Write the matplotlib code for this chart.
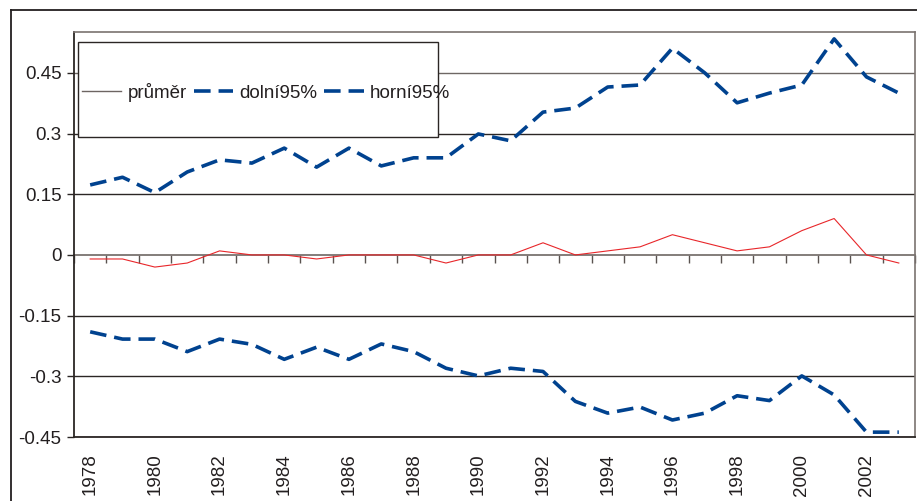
import matplotlib
matplotlib.use("Agg")
import matplotlib.pyplot as plt
from matplotlib.lines import Line2D
from matplotlib.patches import Rectangle
import numpy as np

years = list(range(1978, 2004))
prumer = [-0.01, -0.01, -0.03, -0.02, 0.01, 0.0, 0.0, -0.01, 0.0, 0.0, 0.0, -0.02, 0.0,
          0.0, 0.03, 0.0, 0.01, 0.02, 0.05, 0.03, 0.01, 0.02, 0.06, 0.09, 0.0, -0.02]
dolni95 = [-0.19, -0.208, -0.208, -0.239, -0.208, -0.221, -0.258, -0.228, -0.258, -0.22,
           -0.239, -0.28, -0.299, -0.28, -0.288, -0.362, -0.391, -0.376, -0.408, -0.391,
           -0.348, -0.36, -0.299, -0.346, -0.438, -0.438]
horni95 = [0.173, 0.192, 0.154, 0.205, 0.235, 0.227, 0.264, 0.217, 0.264, 0.22, 0.24, 0.24,
           0.299, 0.282, 0.353, 0.363, 0.415, 0.42, 0.511, 0.45, 0.376, 0.40, 0.42, 0.534,
           0.44, 0.40]
yticks = [-0.45, -0.3, -0.15, 0, 0.15, 0.3, 0.45]
ytick_labels = ["-0.45", "-0.3", "-0.15", "0", "0.15", "0.3", "0.45"]
legend_labels = ["průměr", "dolní95%", "horní95%"]

plt.rcParams['font.family'] = ['Liberation Sans', 'DejaVu Sans']
FS = 13.5

W, H = 917, 501
fig = plt.figure(figsize=(W / 100, H / 100), dpi=100)
ax = fig.add_axes([74 / W, (H - 437) / H, (915 - 74) / W, (437 - 32) / H])

x = np.arange(len(years))
blue = "#00428f"
ax.plot(x, prumer, color="#e8262a", lw=0.8, zorder=3)
ax.plot(x, dolni95, color=blue, lw=2.6, dashes=(4.6, 2.2), zorder=3)
ax.plot(x, horni95, color=blue, lw=2.6, dashes=(4.6, 2.2), zorder=3)

ax.set_xlim(-0.5, len(years) - 0.5)
ax.set_ylim(-0.45, 0.551)

grid_col = "#2b2624"
for yv in yticks:
    if yv == 0:
        continue
    ax.axhline(yv, color=grid_col if yv != 0.45 else "#6e6764", lw=1.0, zorder=1)

ax.set_yticks(yticks)
ax.set_yticklabels(ytick_labels)
ax.tick_params(axis='y', length=5, width=1, color=grid_col, pad=4, labelsize=FS,
               labelcolor="#231f20")

ax.set_xticks(x[::2])
ax.set_xticklabels([str(y) for y in years[::2]], rotation=90, va='top', ha='center')
ax.tick_params(axis='x', length=0, pad=12, labelsize=FS, labelcolor="#231f20")

for s in ['left', 'bottom']:
    ax.spines[s].set_color(grid_col)
    ax.spines[s].set_linewidth(1.3)
for s in ['top', 'right']:
    ax.spines[s].set_color("#7a7370")
    ax.spines[s].set_linewidth(1.2)

# category axis at y=0 with ticks between categories
frac0 = (0 - (-0.45)) / (0.551 + 0.45)
sec = ax.secondary_xaxis(frac0)
sec.set_xticks(np.arange(-0.5, len(years) + 0.5, 1.0))
sec.xaxis.set_ticks_position('bottom')
sec.tick_params(axis='x', direction='out', length=6, width=1, color="#5a5350",
                labelbottom=False, labeltop=False)
sec.spines['bottom'].set_color("#7a7370")
sec.spines['bottom'].set_linewidth(1.3)
if 'top' in sec.spines:
    sec.spines['top'].set_visible(False)

# legend box
fig.patches.append(Rectangle((78 / W, (H - 137) / H), (438 - 78) / W, (137 - 42) / H,
                             transform=fig.transFigure, facecolor='white',
                             edgecolor=grid_col, lw=1.0, zorder=5))
handles = [Line2D([], [], color="#6d6562", lw=1.0),
           Line2D([], [], color=blue, lw=2.6, dashes=(4.6, 2.2)),
           Line2D([], [], color=blue, lw=2.6, dashes=(4.6, 2.2))]
leg = fig.legend(handles, legend_labels, loc='center left',
                 bbox_to_anchor=(82 / W, (H - 92) / H), ncol=3, frameon=False,
                 fontsize=FS, handlelength=2.1, handletextpad=0.35, columnspacing=0.35,
                 borderpad=0, borderaxespad=0)
leg.set_zorder(6)
for t in leg.get_texts():
    t.set_color("#231f20")

# outer chart border
fig.add_artist(Line2D([11 / W, 11 / W], [0, (H - 10) / H], transform=fig.transFigure,
                      color="#231f20", lw=1.3))
fig.add_artist(Line2D([11 / W, 1], [(H - 10) / H, (H - 10) / H], transform=fig.transFigure,
                      color="#231f20", lw=1.3))

fig.savefig("out.png", dpi=100)
